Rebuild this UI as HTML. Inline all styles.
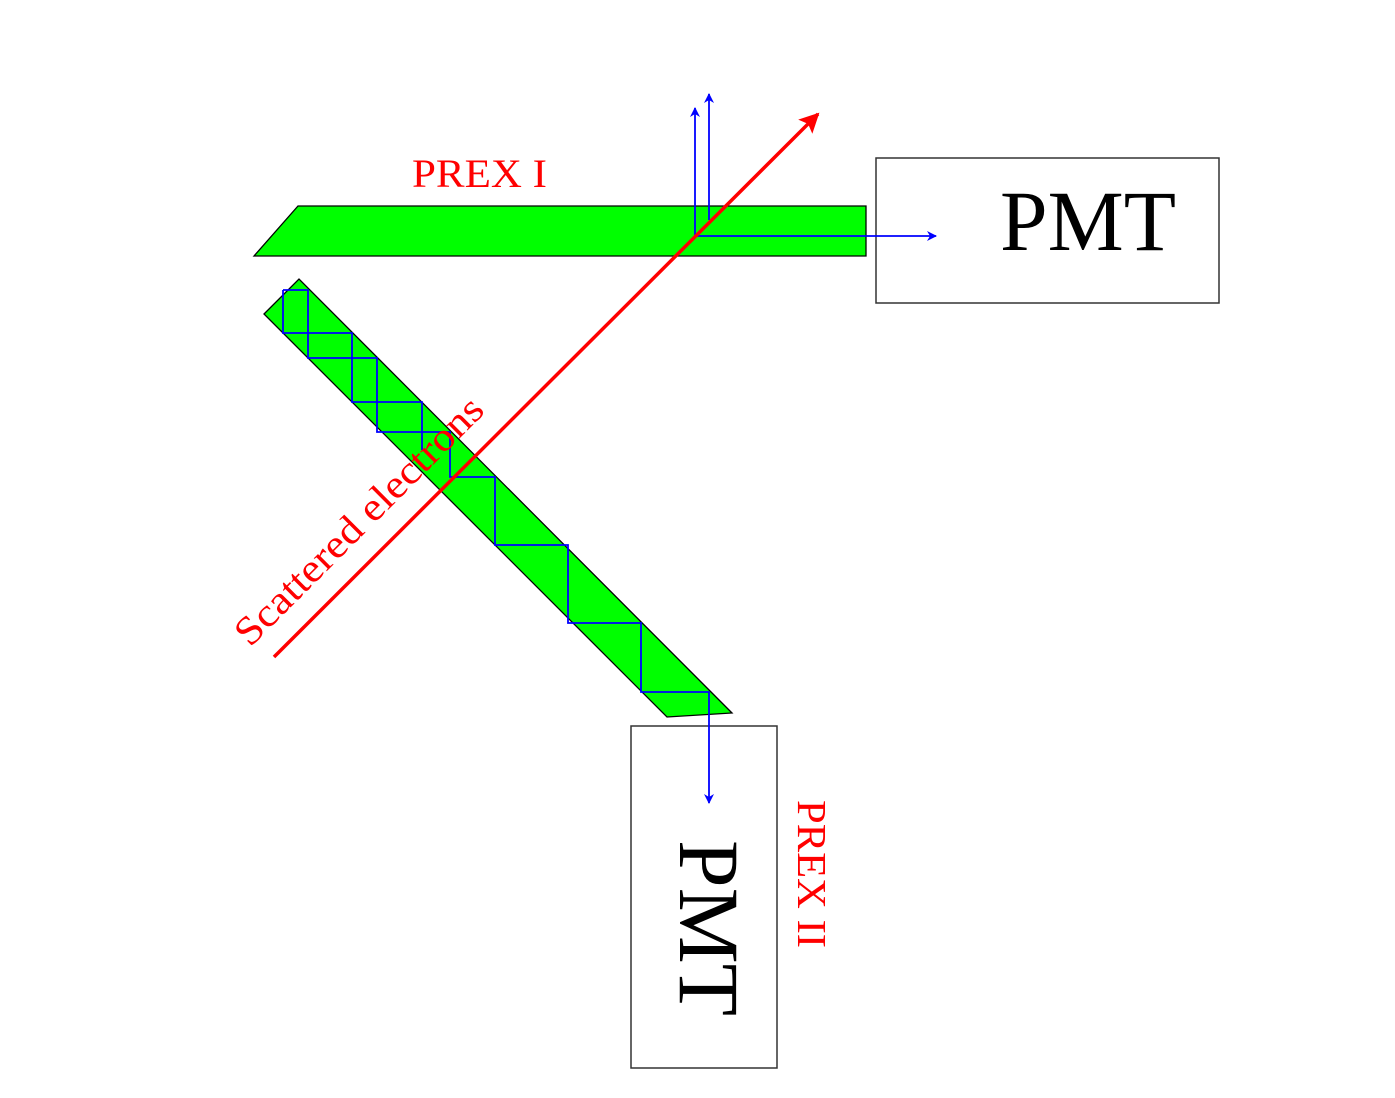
<!DOCTYPE html>
<html><head><meta charset="utf-8"><style>html,body{margin:0;padding:0;background:#fff}svg{display:block}
svg text{font-family:"Liberation Serif","Times New Roman",Times,serif;}</style></head>
<body>
<svg width="1395" height="1098" viewBox="0 0 1395 1098" xmlns="http://www.w3.org/2000/svg">
<defs>
<marker id="ab" viewBox="0 0 10 10" refX="9" refY="5" markerWidth="16" markerHeight="10" markerUnits="userSpaceOnUse" orient="auto"><path d="M0,0L10,5L0,10L3,5z" fill="#0000ff"/></marker>
<marker id="ar" viewBox="0 0 10 10" refX="9" refY="5" markerWidth="24" markerHeight="20" markerUnits="userSpaceOnUse" orient="auto"><path d="M0,0L10,5L0,10L2,5z" fill="#ff0000"/></marker>
</defs>
<polygon points="254,256 298,206 866,206 866,256" fill="#00ff00" stroke="#000" stroke-width="1.3"/>
<polygon points="264,314 299,279 732,713 667,717" fill="#00ff00" stroke="#000" stroke-width="1.3"/>
<rect x="876" y="158" width="343" height="145" fill="none" stroke="#333" stroke-width="1.5"/>
<rect x="631" y="726" width="146" height="342" fill="none" stroke="#333" stroke-width="1.5"/>
<g fill="none" stroke="#0000ff" stroke-width="1.8">
<polyline points="283,290 308,290 308,358 377,358 377,432 450,432 450,477 495,477 495,545 568,545 568,623 641,623 641,692 709,692 709,803" marker-end="url(#ab)"/>
<polyline points="283,290 283,333 352,333 352,402 422,402 422,450"/>
<line x1="695" y1="236" x2="695" y2="108" marker-end="url(#ab)"/>
<line x1="709" y1="220" x2="709" y2="94" marker-end="url(#ab)"/>
<line x1="695" y1="236" x2="936" y2="236" marker-end="url(#ab)"/>
</g>
<line x1="274" y1="657" x2="818" y2="114" stroke="#ff0000" stroke-width="3.5" marker-end="url(#ar)"/>
<g>
<text x="1000" y="250" font-size="86" fill="#000" textLength="176" lengthAdjust="spacingAndGlyphs">PMT</text>
<text transform="translate(680,840) rotate(90)" x="0" y="0" font-size="86" fill="#000" textLength="176" lengthAdjust="spacingAndGlyphs">PMT</text>
<text x="412" y="187" font-size="40" fill="#ff0000" textLength="135" lengthAdjust="spacingAndGlyphs">PREX I</text>
<text transform="translate(798,800) rotate(90)" x="0" y="0" font-size="41" fill="#ff0000" textLength="148" lengthAdjust="spacingAndGlyphs">PREX II</text>
<text transform="translate(250,648) rotate(-45)" x="0" y="0" font-size="40" fill="#ff0000" textLength="334" lengthAdjust="spacingAndGlyphs">Scattered electrons</text>
</g>
</svg>
</body></html>
